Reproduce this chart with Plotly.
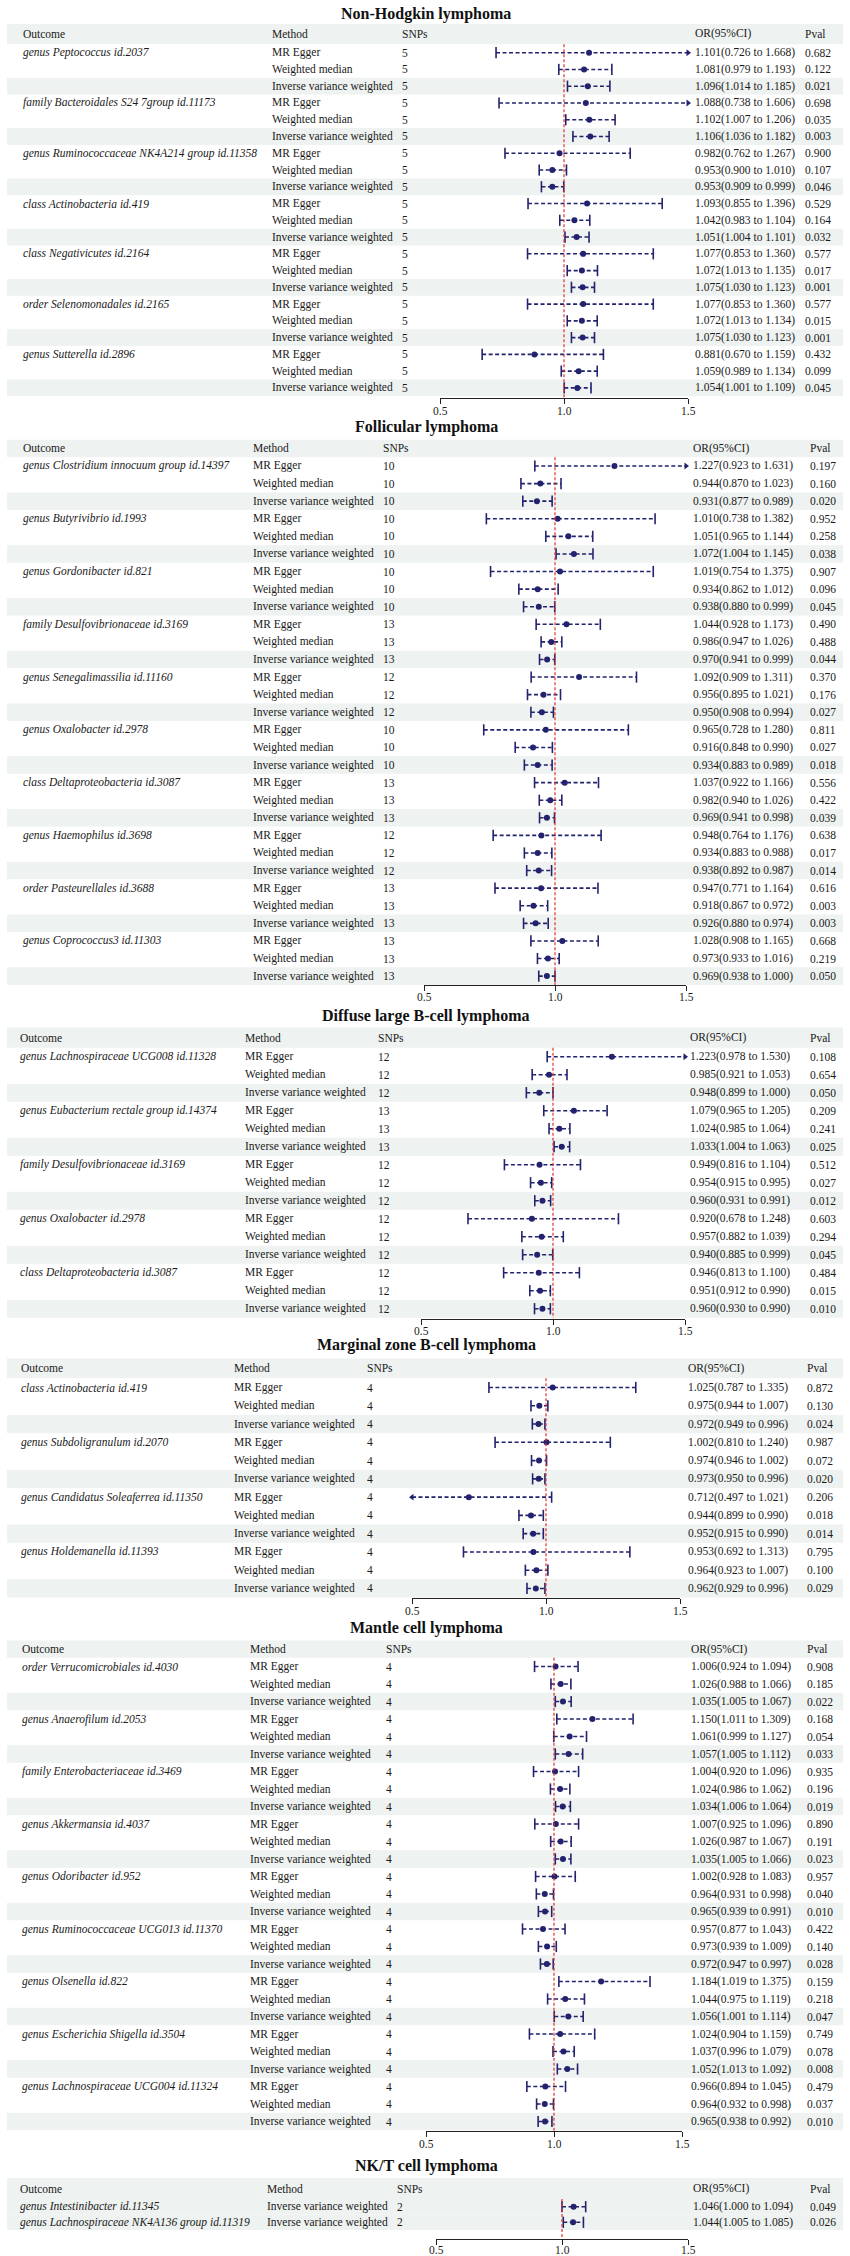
import plotly.graph_objects as go
import numpy as np

W, H = 850, 2256

# ---------------- data ----------------
METHODS = ["MR Egger", "Weighted median", "Inverse variance weighted"]
HEADERS = ["Outcome", "Method", "SNPs", "OR(95%CI)", "Pval"]
TICKS = [0.5, 1.0, 1.5]
TICK_TEXT = ["0.5", "1.0", "1.5"]
REF_OR = 1.0
X_MIN, X_MAX = 0.5, 1.5

NHL_TITLE = "Non-Hodgkin lymphoma"
NHL_EXPOSURES = ["genus Peptococcus id.2037", "family Bacteroidales S24 7group id.11173",
                 "genus Ruminococcaceae NK4A214 group id.11358", "class Actinobacteria id.419",
                 "class Negativicutes id.2164", "order Selenomonadales id.2165", "genus Sutterella id.2896"]
NHL_SNPS = [5, 5, 5, 5, 5, 5, 5]
NHL_OR = [1.101, 1.081, 1.096, 1.088, 1.102, 1.106, 0.982, 0.953, 0.953, 1.093, 1.042, 1.051,
          1.077, 1.072, 1.075, 1.077, 1.072, 1.075, 0.881, 1.059, 1.054]
NHL_LO = [0.726, 0.979, 1.014, 0.738, 1.007, 1.036, 0.762, 0.900, 0.909, 0.855, 0.983, 1.004,
          0.853, 1.013, 1.030, 0.853, 1.013, 1.030, 0.670, 0.989, 1.001]
NHL_HI = [1.668, 1.193, 1.185, 1.606, 1.206, 1.182, 1.267, 1.010, 0.999, 1.396, 1.104, 1.101,
          1.360, 1.135, 1.123, 1.360, 1.134, 1.123, 1.159, 1.134, 1.109]
NHL_P = [0.682, 0.122, 0.021, 0.698, 0.035, 0.003, 0.900, 0.107, 0.046, 0.529, 0.164, 0.032,
         0.577, 0.017, 0.001, 0.577, 0.015, 0.001, 0.432, 0.099, 0.045]

FL_TITLE = "Follicular lymphoma"
FL_EXPOSURES = ["genus Clostridium innocuum group id.14397", "genus Butyrivibrio id.1993",
                "genus Gordonibacter id.821", "family Desulfovibrionaceae id.3169",
                "genus Senegalimassilia id.11160", "genus Oxalobacter id.2978",
                "class Deltaproteobacteria id.3087", "genus Haemophilus id.3698",
                "order Pasteurellales id.3688", "genus Coprococcus3 id.11303"]
FL_SNPS = [10, 10, 10, 13, 12, 10, 13, 12, 13, 13]
FL_OR = [1.227, 0.944, 0.931, 1.010, 1.051, 1.072, 1.019, 0.934, 0.938, 1.044, 0.986, 0.970,
         1.092, 0.956, 0.950, 0.965, 0.916, 0.934, 1.037, 0.982, 0.969, 0.948, 0.934, 0.938,
         0.947, 0.918, 0.926, 1.028, 0.973, 0.969]
FL_LO = [0.923, 0.870, 0.877, 0.738, 0.965, 1.004, 0.754, 0.862, 0.880, 0.928, 0.947, 0.941,
         0.909, 0.895, 0.908, 0.728, 0.848, 0.883, 0.922, 0.940, 0.941, 0.764, 0.883, 0.892,
         0.771, 0.867, 0.880, 0.908, 0.933, 0.938]
FL_HI = [1.631, 1.023, 0.989, 1.382, 1.144, 1.145, 1.375, 1.012, 0.999, 1.173, 1.026, 0.999,
         1.311, 1.021, 0.994, 1.280, 0.990, 0.989, 1.166, 1.026, 0.998, 1.176, 0.988, 0.987,
         1.164, 0.972, 0.974, 1.165, 1.016, 1.000]
FL_P = [0.197, 0.160, 0.020, 0.952, 0.258, 0.038, 0.907, 0.096, 0.045, 0.490, 0.488, 0.044,
        0.370, 0.176, 0.027, 0.811, 0.027, 0.018, 0.556, 0.422, 0.039, 0.638, 0.017, 0.014,
        0.616, 0.003, 0.003, 0.668, 0.219, 0.050]

DLBCL_TITLE = "Diffuse large B-cell lymphoma"
DLBCL_EXPOSURES = ["genus Lachnospiraceae UCG008 id.11328", "genus Eubacterium rectale group id.14374",
                   "family Desulfovibrionaceae id.3169", "genus Oxalobacter id.2978",
                   "class Deltaproteobacteria id.3087"]
DLBCL_SNPS = [12, 13, 12, 12, 12]
DLBCL_OR = [1.223, 0.985, 0.948, 1.079, 1.024, 1.033, 0.949, 0.954, 0.960, 0.920, 0.957, 0.940,
            0.946, 0.951, 0.960]
DLBCL_LO = [0.978, 0.921, 0.899, 0.965, 0.985, 1.004, 0.816, 0.915, 0.931, 0.678, 0.882, 0.885,
            0.813, 0.912, 0.930]
DLBCL_HI = [1.530, 1.053, 1.000, 1.205, 1.064, 1.063, 1.104, 0.995, 0.991, 1.248, 1.039, 0.999,
            1.100, 0.990, 0.990]
DLBCL_P = [0.108, 0.654, 0.050, 0.209, 0.241, 0.025, 0.512, 0.027, 0.012, 0.603, 0.294, 0.045,
           0.484, 0.015, 0.010]

MZL_TITLE = "Marginal zone B-cell lymphoma"
MZL_EXPOSURES = ["class Actinobacteria id.419", "genus Subdoligranulum id.2070",
                 "genus Candidatus Soleaferrea id.11350", "genus Holdemanella id.11393"]
MZL_SNPS = [4, 4, 4, 4]
MZL_OR = [1.025, 0.975, 0.972, 1.002, 0.974, 0.973, 0.712, 0.944, 0.952, 0.953, 0.964, 0.962]
MZL_LO = [0.787, 0.944, 0.949, 0.810, 0.946, 0.950, 0.497, 0.899, 0.915, 0.692, 0.923, 0.929]
MZL_HI = [1.335, 1.007, 0.996, 1.240, 1.002, 0.996, 1.021, 0.990, 0.990, 1.313, 1.007, 0.996]
MZL_P = [0.872, 0.130, 0.024, 0.987, 0.072, 0.020, 0.206, 0.018, 0.014, 0.795, 0.100, 0.029]

MCL_TITLE = "Mantle cell lymphoma"
MCL_EXPOSURES = ["order Verrucomicrobiales id.4030", "genus Anaerofilum id.2053",
                 "family Enterobacteriaceae id.3469", "genus Akkermansia id.4037",
                 "genus Odoribacter id.952", "genus Ruminococcaceae UCG013 id.11370",
                 "genus Olsenella id.822", "genus Escherichia Shigella id.3504",
                 "genus Lachnospiraceae UCG004 id.11324"]
MCL_SNPS = [4, 4, 4, 4, 4, 4, 4, 4, 4]
MCL_OR = [1.006, 1.026, 1.035, 1.150, 1.061, 1.057, 1.004, 1.024, 1.034, 1.007, 1.026, 1.035,
          1.002, 0.964, 0.965, 0.957, 0.973, 0.972, 1.184, 1.044, 1.056, 1.024, 1.037, 1.052,
          0.966, 0.964, 0.965]
MCL_LO = [0.924, 0.988, 1.005, 1.011, 0.999, 1.005, 0.920, 0.986, 1.006, 0.925, 0.987, 1.005,
          0.928, 0.931, 0.939, 0.877, 0.939, 0.947, 1.019, 0.975, 1.001, 0.904, 0.996, 1.013,
          0.894, 0.932, 0.938]
MCL_HI = [1.094, 1.066, 1.067, 1.309, 1.127, 1.112, 1.096, 1.062, 1.064, 1.096, 1.067, 1.066,
          1.083, 0.998, 0.991, 1.043, 1.009, 0.997, 1.375, 1.119, 1.114, 1.159, 1.079, 1.092,
          1.045, 0.998, 0.992]
MCL_P = [0.908, 0.185, 0.022, 0.168, 0.054, 0.033, 0.935, 0.196, 0.019, 0.890, 0.191, 0.023,
         0.957, 0.040, 0.010, 0.422, 0.140, 0.028, 0.159, 0.218, 0.047, 0.749, 0.078, 0.008,
         0.479, 0.037, 0.010]

NKT_TITLE = "NK/T cell lymphoma"
NKT_METHODS = ["Inverse variance weighted"]
NKT_EXPOSURES = ["genus Intestinibacter id.11345", "genus Lachnospiraceae NK4A136 group id.11319"]
NKT_SNPS = [2, 2]
NKT_OR = [1.046, 1.044]
NKT_LO = [1.000, 1.005]
NKT_HI = [1.094, 1.085]
NKT_P = [0.049, 0.026]

SECTIONS = [
    dict(title=NHL_TITLE, exps=NHL_EXPOSURES, methods=METHODS, snps=NHL_SNPS, orv=NHL_OR, lo=NHL_LO, hi=NHL_HI, p=NHL_P),
    dict(title=FL_TITLE, exps=FL_EXPOSURES, methods=METHODS, snps=FL_SNPS, orv=FL_OR, lo=FL_LO, hi=FL_HI, p=FL_P),
    dict(title=DLBCL_TITLE, exps=DLBCL_EXPOSURES, methods=METHODS, snps=DLBCL_SNPS, orv=DLBCL_OR, lo=DLBCL_LO, hi=DLBCL_HI, p=DLBCL_P),
    dict(title=MZL_TITLE, exps=MZL_EXPOSURES, methods=METHODS, snps=MZL_SNPS, orv=MZL_OR, lo=MZL_LO, hi=MZL_HI, p=MZL_P),
    dict(title=MCL_TITLE, exps=MCL_EXPOSURES, methods=METHODS, snps=MCL_SNPS, orv=MCL_OR, lo=MCL_LO, hi=MCL_HI, p=MCL_P),
    dict(title=NKT_TITLE, exps=NKT_EXPOSURES, methods=NKT_METHODS, snps=NKT_SNPS, orv=NKT_OR, lo=NKT_LO, hi=NKT_HI, p=NKT_P),
]

# ---------------- layout geometry (pixels) ----------------
GEOM = [
    dict(title_y=13.5, hdr_c=34.0, row1=52.7, sp=16.76, axis_y=398.3, ax=(440, 688), cols=(21, 270, 400, 693, 803)),
    dict(title_y=426.7, hdr_c=448.3, row1=466.0, sp=17.59, axis_y=985.0, ax=(424, 686), cols=(21, 251, 381, 691, 808)),
    dict(title_y=1015.5, hdr_c=1037.5, row1=1056.7, sp=18.0, axis_y=1318.5, ax=(421, 685), cols=(18, 243, 376, 688, 808)),
    dict(title_y=1345.0, hdr_c=1368.3, row1=1387.5, sp=18.27, axis_y=1598.0, ax=(412, 680), cols=(19, 232, 365, 686, 805)),
    dict(title_y=1628.0, hdr_c=1649.0, row1=1666.5, sp=17.5, axis_y=2131.0, ax=(426, 682), cols=(20, 248, 384, 689, 805)),
    dict(title_y=2166.0, hdr_c=2188.5, row1=2206.7, sp=15.6, axis_y=2238.5, ax=(436, 688), cols=(18, 265, 395, 691, 808)),
]
TICKLABEL_GAP = 12.5
TICKLABEL_MAXY = H - 6

FONT = "Liberation Serif"
TXT_SIZE = 11.5
TXT_COLOR = "#1a1a1a"
NAVY = "#22226e"
BAND = "#eef2f0"
RED = "#e0332e"
BAND_X = (7, 843)
TITLE_X = 426

fig = go.Figure()
annotations = []
shapes = []
layout_axes = {}

for s, (sec, g) in enumerate(zip(SECTIONS, GEOM), start=1):
    rows = []
    nm = len(sec["methods"])
    for k, exp in enumerate(sec["exps"]):
        for mi, m in enumerate(sec["methods"]):
            i = k * nm + mi
            rows.append(dict(outcome=exp if mi == 0 else "", method=m, snp=sec["snps"][k],
                             orv=sec["orv"][i], lo=sec["lo"][i], hi=sec["hi"][i], p=sec["p"][i]))
    sp, r1 = g["sp"], g["row1"]
    row1_top = r1 - sp / 2
    hdr_top = 2 * g["hdr_c"] - row1_top
    y_top = 1 - (r1 - hdr_top) / sp
    y_bot = 1 + (g["axis_y"] - r1) / sp
    y_hdr = 1 - (r1 - g["hdr_c"]) / sp

    xname = "xaxis" if s == 1 else f"xaxis{s}"
    yname = "yaxis" if s == 1 else f"yaxis{s}"
    xref = "x" if s == 1 else f"x{s}"
    yref = "y" if s == 1 else f"y{s}"

    layout_axes[xname] = dict(domain=[g["ax"][0] / W, g["ax"][1] / W], range=[X_MIN, X_MAX],
                              anchor=yref, showgrid=False, zeroline=False, showline=True,
                              linecolor="#222", linewidth=1, ticks="outside", ticklen=5,
                              tickcolor="#222", tickvals=TICKS, showticklabels=False,
                              fixedrange=True)
    layout_axes[yname] = dict(domain=[1 - g["axis_y"] / H, 1 - hdr_top / H], range=[y_bot, y_top],
                              anchor=xref, visible=False, fixedrange=True)

    # tick labels placed at the axis' tick values
    lab_y = min(g["axis_y"] + TICKLABEL_GAP, TICKLABEL_MAXY)
    for tv, tt in zip(TICKS, TICK_TEXT):
        annotations.append(dict(text=tt, x=tv, xref=xref, y=1 - lab_y / H,
                                yref="paper", xanchor="center", yanchor="middle", showarrow=False,
                                font=dict(family=FONT, size=TXT_SIZE, color=TXT_COLOR)))

    # title
    annotations.append(dict(text=f"<b>{sec['title']}</b>", x=TITLE_X / W, y=1 - g["title_y"] / H,
                            xref="paper", yref="paper", xanchor="center", yanchor="middle",
                            showarrow=False, font=dict(family=FONT, size=16, color="#111")))
    # header band + texts
    shapes.append(dict(type="rect", xref="paper", yref=yref, x0=BAND_X[0] / W, x1=BAND_X[1] / W,
                       y0=y_top, y1=0.5, fillcolor=BAND, line=dict(width=0), layer="below"))
    for cx, htxt in zip(g["cols"], HEADERS):
        annotations.append(dict(text=htxt, x=cx / W, y=y_hdr, xref="paper", yref=yref,
                                xanchor="left", yanchor="middle", showarrow=False,
                                font=dict(family=FONT, size=TXT_SIZE, color=TXT_COLOR)))

    lx, ly, capx, capy, arx_r, ary_r, arx_l, ary_l = [], [], [], [], [], [], [], []
    px, py = [], []
    for i, r in enumerate(rows, start=1):
        if r["method"] == "Inverse variance weighted":
            shapes.append(dict(type="rect", xref="paper", yref=yref, x0=BAND_X[0] / W, x1=BAND_X[1] / W,
                               y0=i - 0.5, y1=i + 0.5, fillcolor=BAND, line=dict(width=0), layer="below"))
        texts = [f"<i>{r['outcome']}</i>" if r["outcome"] else "", r["method"], str(r["snp"]),
                 f"{r['orv']:.3f}({r['lo']:.3f} to {r['hi']:.3f})", f"{r['p']:.3f}"]
        for cx, t in zip(g["cols"], texts):
            if t:
                annotations.append(dict(text=t, x=cx / W, y=i, xref="paper", yref=yref,
                                        xanchor="left", yanchor="middle", showarrow=False,
                                        font=dict(family=FONT, size=TXT_SIZE, color=TXT_COLOR)))
        lo_c = float(np.clip(r["lo"], X_MIN, X_MAX))
        hi_c = float(np.clip(r["hi"], X_MIN, X_MAX))
        lx += [lo_c, hi_c, None]
        ly += [i, i, None]
        if r["lo"] < X_MIN:
            arx_l.append(lo_c); ary_l.append(i)
        else:
            capx.append(lo_c); capy.append(i)
        if r["hi"] > X_MAX:
            arx_r.append(hi_c); ary_r.append(i)
        else:
            capx.append(hi_c); capy.append(i)
        px.append(r["orv"]); py.append(i)

    common = dict(xaxis=xref, yaxis=yref, hoverinfo="skip", showlegend=False, cliponaxis=False)
    fig.add_trace(go.Scatter(x=lx, y=ly, mode="lines",
                             line=dict(color=NAVY, width=1.6, dash="4px,2.5px"), **common))
    fig.add_trace(go.Scatter(x=capx, y=capy, mode="markers",
                             marker=dict(symbol="line-ns", size=8, line=dict(color=NAVY, width=1.6)), **common))
    if arx_r:
        fig.add_trace(go.Scatter(x=arx_r, y=ary_r, mode="markers",
                                 marker=dict(symbol="triangle-right", size=6, color=NAVY), **common))
    if arx_l:
        fig.add_trace(go.Scatter(x=arx_l, y=ary_l, mode="markers",
                                 marker=dict(symbol="triangle-left", size=6, color=NAVY), **common))
    fig.add_trace(go.Scatter(x=px, y=py, mode="markers",
                             marker=dict(symbol="circle", size=6, color=NAVY), **common))

    # reference line at OR = 1
    shapes.append(dict(type="line", xref=xref, yref=yref, x0=REF_OR, x1=REF_OR, y0=0.5, y1=y_bot,
                       line=dict(color=RED, width=1.2, dash="3px,2px"), layer="above"))

fig.update_layout(width=W, height=H, margin=dict(l=0, r=0, t=0, b=0),
                  paper_bgcolor="white", plot_bgcolor="rgba(0,0,0,0)",
                  annotations=annotations, shapes=shapes, showlegend=False, **layout_axes)

fig.write_html("out.html", config={"displayModeBar": False, "staticPlot": True},
               post_script="document.body.style.margin='0';document.body.style.overflow='hidden';")
